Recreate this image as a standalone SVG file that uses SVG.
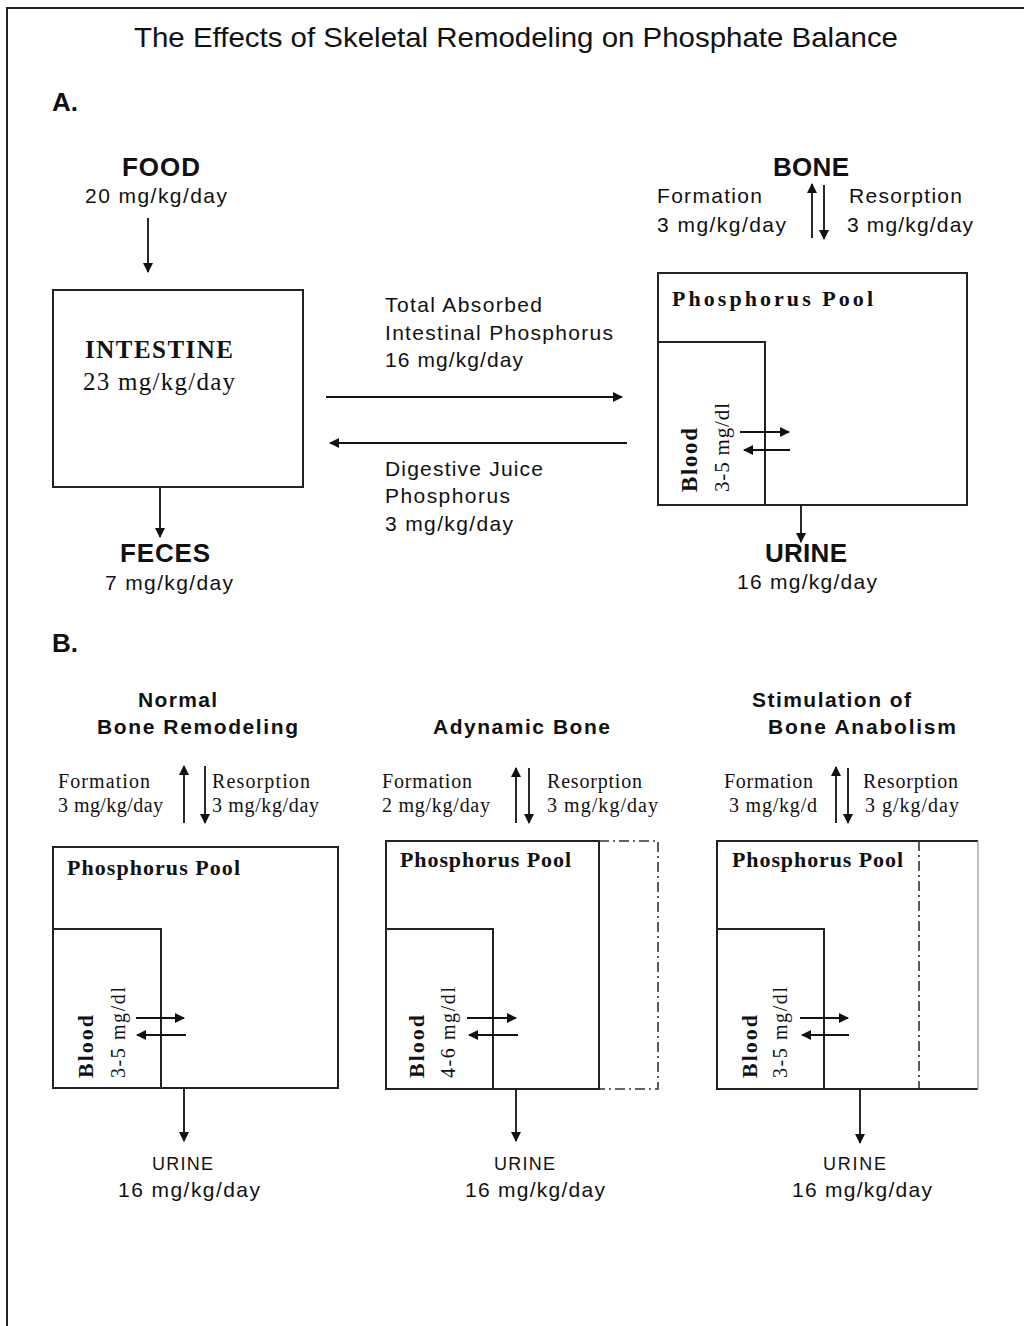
<svg xmlns="http://www.w3.org/2000/svg" width="1024" height="1326" viewBox="0 0 1024 1326">
<defs>
<marker id="ah" viewBox="0 0 10 10" refX="9" refY="5" markerWidth="11" markerHeight="10" markerUnits="userSpaceOnUse" orient="auto">
<path d="M0,0 L10,5 L0,10 z" fill="#111"/>
</marker>
</defs>
<style>
.sans{font-family:"Liberation Sans",Arial,sans-serif;fill:#111}
.serif{font-family:"Liberation Serif","Times New Roman",serif;fill:#111}
.lbl{font-size:21px}
.head{font-size:26px;font-weight:bold}
.bt{font-size:21px;font-weight:bold}
.sl{font-size:20px}
.pool{font-size:22px;font-weight:bold}
.box{fill:none;stroke:#222;stroke-width:2}
.arr{stroke:#111;stroke-width:1.8;fill:none;marker-end:url(#ah)}
.dash{fill:none;stroke:#333;stroke-width:1.6;stroke-dasharray:10 4 2 4}
</style>
<rect width="1024" height="1326" fill="#fff"/>
<path d="M7,1326 L7,8 L1024,8" fill="none" stroke="#222" stroke-width="2"/>
<text class="sans" x="134" y="47" font-size="28" textLength="764" lengthAdjust="spacingAndGlyphs">The Effects of Skeletal Remodeling on Phosphate Balance</text>
<text class="sans" x="52" y="111" font-size="26" font-weight="bold">A.</text>
<text class="sans" x="52" y="652" font-size="26" font-weight="bold">B.</text>

<g id="food">
<text class="sans head" x="122" y="176" textLength="78">FOOD</text>
<text class="sans lbl" x="85" y="203" textLength="142">20 mg/kg/day</text>
</g>
<g id="intestine">
<rect class="box" x="53" y="290" width="250" height="197" stroke="#444"/>
<text class="serif" x="85" y="358" font-size="25" font-weight="bold" textLength="148">INTESTINE</text>
<text class="serif" x="83" y="390" font-size="25" textLength="152">23 mg/kg/day</text>
</g>
<g id="feces">
<text class="sans head" x="120" y="562" textLength="90">FECES</text>
<text class="sans lbl" x="105" y="590" textLength="128">7 mg/kg/day</text>
</g>
<g id="absorbed-label">
<text class="sans lbl" x="385" y="312" textLength="157">Total Absorbed</text>
<text class="sans lbl" x="385" y="340" textLength="228">Intestinal Phosphorus</text>
<text class="sans lbl" x="385" y="367" textLength="138">16 mg/kg/day</text>
</g>
<g id="digestive-label">
<text class="sans lbl" x="385" y="476" textLength="158">Digestive Juice</text>
<text class="sans lbl" x="385" y="503" textLength="125">Phosphorus</text>
<text class="sans lbl" x="385" y="531" textLength="128">3 mg/kg/day</text>
</g>
<g id="bone-a">
<text class="sans head" x="773" y="176" textLength="76">BONE</text>
<text class="sans lbl" x="657" y="203" textLength="105">Formation</text>
<text class="sans lbl" x="657" y="232" textLength="129">3 mg/kg/day</text>
<text class="sans lbl" x="849" y="203" textLength="113">Resorption</text>
<text class="sans lbl" x="847" y="232" textLength="126">3 mg/kg/day</text>
</g>
<g id="pool-a">
<rect class="box" x="658" y="273" width="309" height="232"/>
<text class="serif pool" x="672" y="306" textLength="201">Phosphorus Pool</text>
<rect class="box" x="658" y="342" width="107" height="163"/>
<text class="serif" transform="translate(697,492) rotate(-90)" font-size="23" font-weight="bold" textLength="64">Blood</text>
<text class="serif" transform="translate(729,492) rotate(-90)" font-size="21" textLength="89">3-5 mg/dl</text>
</g>
<g id="urine-a">
<text class="sans head" x="765" y="562" textLength="82">URINE</text>
<text class="sans lbl" x="737" y="589" textLength="140">16 mg/kg/day</text>
</g>

<g id="normal">
<text class="sans bt" x="138" y="707" textLength="79">Normal</text>
<text class="sans bt" x="97" y="734" textLength="201">Bone Remodeling</text>
<text class="serif sl" x="58" y="788" textLength="92">Formation</text>
<text class="serif sl" x="58" y="812" textLength="105">3 mg/kg/day</text>
<text class="serif sl" x="212" y="788" textLength="98">Resorption</text>
<text class="serif sl" x="212" y="812" textLength="107">3 mg/kg/day</text>
<rect class="box" x="53" y="847" width="285" height="241"/>
<text class="serif pool" x="67" y="875" textLength="173">Phosphorus Pool</text>
<rect class="box" x="53" y="929" width="108" height="159"/>
<text class="serif" transform="translate(93,1078) rotate(-90)" font-size="22" font-weight="bold" textLength="63">Blood</text>
<text class="serif" transform="translate(125,1078) rotate(-90)" font-size="20" textLength="91">3-5 mg/dl</text>
<text class="sans" x="152" y="1170" font-size="18" textLength="61">URINE</text>
<text class="sans lbl" x="118" y="1197" textLength="142">16 mg/kg/day</text>
</g>

<g id="adynamic">
<text class="sans bt" x="433" y="734" textLength="177">Adynamic Bone</text>
<text class="serif sl" x="382" y="788" textLength="90">Formation</text>
<text class="serif sl" x="382" y="812" textLength="108">2 mg/kg/day</text>
<text class="serif sl" x="547" y="788" textLength="95">Resorption</text>
<text class="serif sl" x="547" y="812" textLength="111">3 mg/kg/day</text>
<rect class="box" x="386" y="841" width="213" height="248"/>
<path class="dash" d="M599,841 L658,841 L658,1089 L599,1089"/>
<text class="serif pool" x="400" y="867" textLength="171">Phosphorus Pool</text>
<rect class="box" x="386" y="929" width="107" height="160"/>
<text class="serif" transform="translate(424,1078) rotate(-90)" font-size="22" font-weight="bold" textLength="63">Blood</text>
<text class="serif" transform="translate(455,1078) rotate(-90)" font-size="20" textLength="91">4-6 mg/dl</text>
<text class="sans" x="494" y="1170" font-size="18" textLength="61">URINE</text>
<text class="sans lbl" x="465" y="1197" textLength="140">16 mg/kg/day</text>
</g>

<g id="stimulation">
<text class="sans bt" x="752" y="707" textLength="159">Stimulation of</text>
<text class="sans bt" x="768" y="734" textLength="188">Bone Anabolism</text>
<text class="serif sl" x="724" y="788" textLength="89">Formation</text>
<text class="serif sl" x="729" y="812" textLength="88">3 mg/kg/d</text>
<text class="serif sl" x="863" y="788" textLength="95">Resorption</text>
<text class="serif sl" x="865" y="812" textLength="94">3 g/kg/day</text>
<path d="M978,841 L717,841 L717,1089 L978,1089" class="box"/>
<line x1="978" y1="841" x2="978" y2="1089" stroke="#aaa" stroke-width="1.5"/>
<line class="dash" x1="919" y1="841" x2="919" y2="1089" stroke-dasharray="8 4"/>
<text class="serif pool" x="732" y="867" textLength="171">Phosphorus Pool</text>
<rect class="box" x="717" y="929" width="107" height="160"/>
<text class="serif" transform="translate(757,1078) rotate(-90)" font-size="22" font-weight="bold" textLength="63">Blood</text>
<text class="serif" transform="translate(787,1078) rotate(-90)" font-size="20" textLength="91">3-5 mg/dl</text>
<text class="sans" x="823" y="1170" font-size="18" textLength="63">URINE</text>
<text class="sans lbl" x="792" y="1197" textLength="140">16 mg/kg/day</text>
</g>

<g id="connectors">
<line class="arr" x1="148" y1="218" x2="148" y2="272"/>
<line class="arr" x1="160" y1="487" x2="160" y2="537"/>
<line class="arr" x1="326" y1="397" x2="622" y2="397" stroke-width="2.4"/>
<line class="arr" x1="627" y1="443" x2="330" y2="443" stroke-width="2.4" stroke="#444"/>
<line class="arr" x1="812" y1="238" x2="812" y2="184"/>
<line class="arr" x1="824" y1="185" x2="824" y2="239"/>
<line class="arr" x1="740" y1="432" x2="789" y2="432"/>
<line class="arr" x1="790" y1="450" x2="744" y2="450"/>
<line class="arr" x1="801" y1="505" x2="801" y2="542"/>

<line class="arr" x1="184" y1="823" x2="184" y2="766"/>
<line class="arr" x1="205" y1="766" x2="205" y2="823"/>
<line class="arr" x1="136" y1="1018" x2="184" y2="1018"/>
<line class="arr" x1="186" y1="1035" x2="137" y2="1035"/>
<line class="arr" x1="184" y1="1088" x2="184" y2="1141"/>

<line class="arr" x1="516" y1="823" x2="516" y2="768"/>
<line class="arr" x1="529" y1="768" x2="529" y2="823"/>
<line class="arr" x1="467" y1="1018" x2="516" y2="1018"/>
<line class="arr" x1="518" y1="1035" x2="469" y2="1035"/>
<line class="arr" x1="516" y1="1089" x2="516" y2="1141"/>

<line class="arr" x1="836" y1="823" x2="836" y2="767"/>
<line class="arr" x1="848" y1="768" x2="848" y2="823"/>
<line class="arr" x1="800" y1="1018" x2="848" y2="1018"/>
<line class="arr" x1="849" y1="1035" x2="802" y2="1035"/>
<line class="arr" x1="860" y1="1089" x2="860" y2="1143"/>
</g>
</svg>
